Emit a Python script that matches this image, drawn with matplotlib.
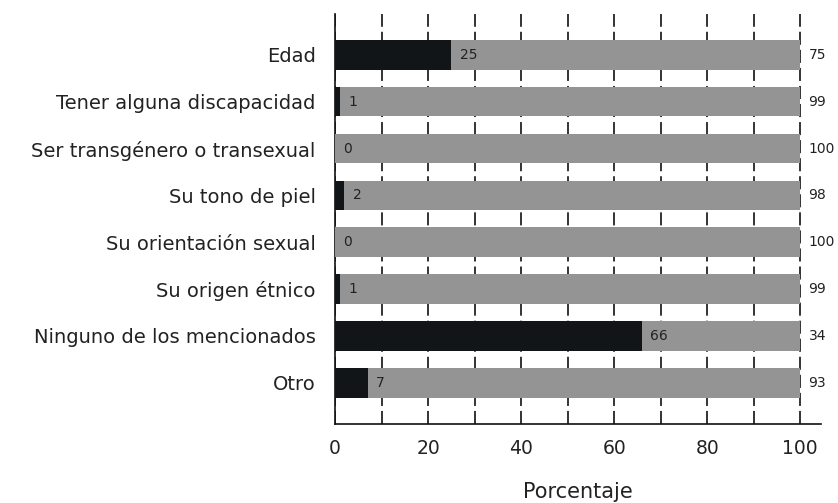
import matplotlib
matplotlib.use("Agg")
from matplotlib import pyplot as plt
import numpy as np

categories = [
    "Edad",
    "Tener alguna discapacidad",
    "Ser transgénero o transexual",
    "Su tono de piel",
    "Su orientación sexual",
    "Su origen étnico",
    "Ninguno de los mencionados",
    "Otro",
]
si_values = [25, 1, 0, 2, 0, 1, 66, 7]
no_values = [75, 99, 100, 98, 100, 99, 34, 93]

plt.rcParams["font.family"] = ["DejaVu Sans"]
plt.rcParams["lines.scale_dashes"] = False

text_color = "#222222"
black = "#111518"
gray = "#949494"

fig = plt.figure(figsize=(8.38, 5.03), dpi=100)
ax = fig.add_axes([0.3998, 0.157, 0.9797 - 0.3998, 0.973 - 0.157])

y = np.arange(len(categories))
bar_h = 0.63
c1 = ax.barh(y, si_values, height=bar_h, color=black, zorder=3)
c2 = ax.barh(y, no_values, left=si_values, height=bar_h, color=gray, zorder=3)

ax.bar_label(c1, labels=[str(v) for v in si_values], padding=6,
             fontsize=10, color=text_color)
ax.bar_label(c2, labels=[str(v) for v in no_values], padding=6,
             fontsize=10, color=text_color)

ax.set_xlim(0, 104.45)
ax.set_ylim(len(categories) - 1 + 0.88, -0.88)
ax.set_yticks(y, categories)
ax.set_xticks(np.arange(0, 101, 20))
ax.set_xticks(np.arange(10, 100, 20), minor=True)

ax.grid(axis="x", which="both", color="#111111", linewidth=1.2,
        linestyle=(0, (9.4, 3.6)), zorder=1)
ax.set_axisbelow(True)

for s in ["top", "right"]:
    ax.spines[s].set_visible(False)
for s in ["left", "bottom"]:
    ax.spines[s].set_color("#111111")
    ax.spines[s].set_linewidth(1.2)

ax.tick_params(axis="y", length=0, pad=14, labelsize=14, labelcolor=text_color)
ax.tick_params(axis="x", which="both", length=0, pad=11, labelsize=13.5,
               labelcolor=text_color)
ax.set_xlabel("Porcentaje", fontsize=15, color=text_color, labelpad=17)

fig.savefig("out.png", dpi=100)
